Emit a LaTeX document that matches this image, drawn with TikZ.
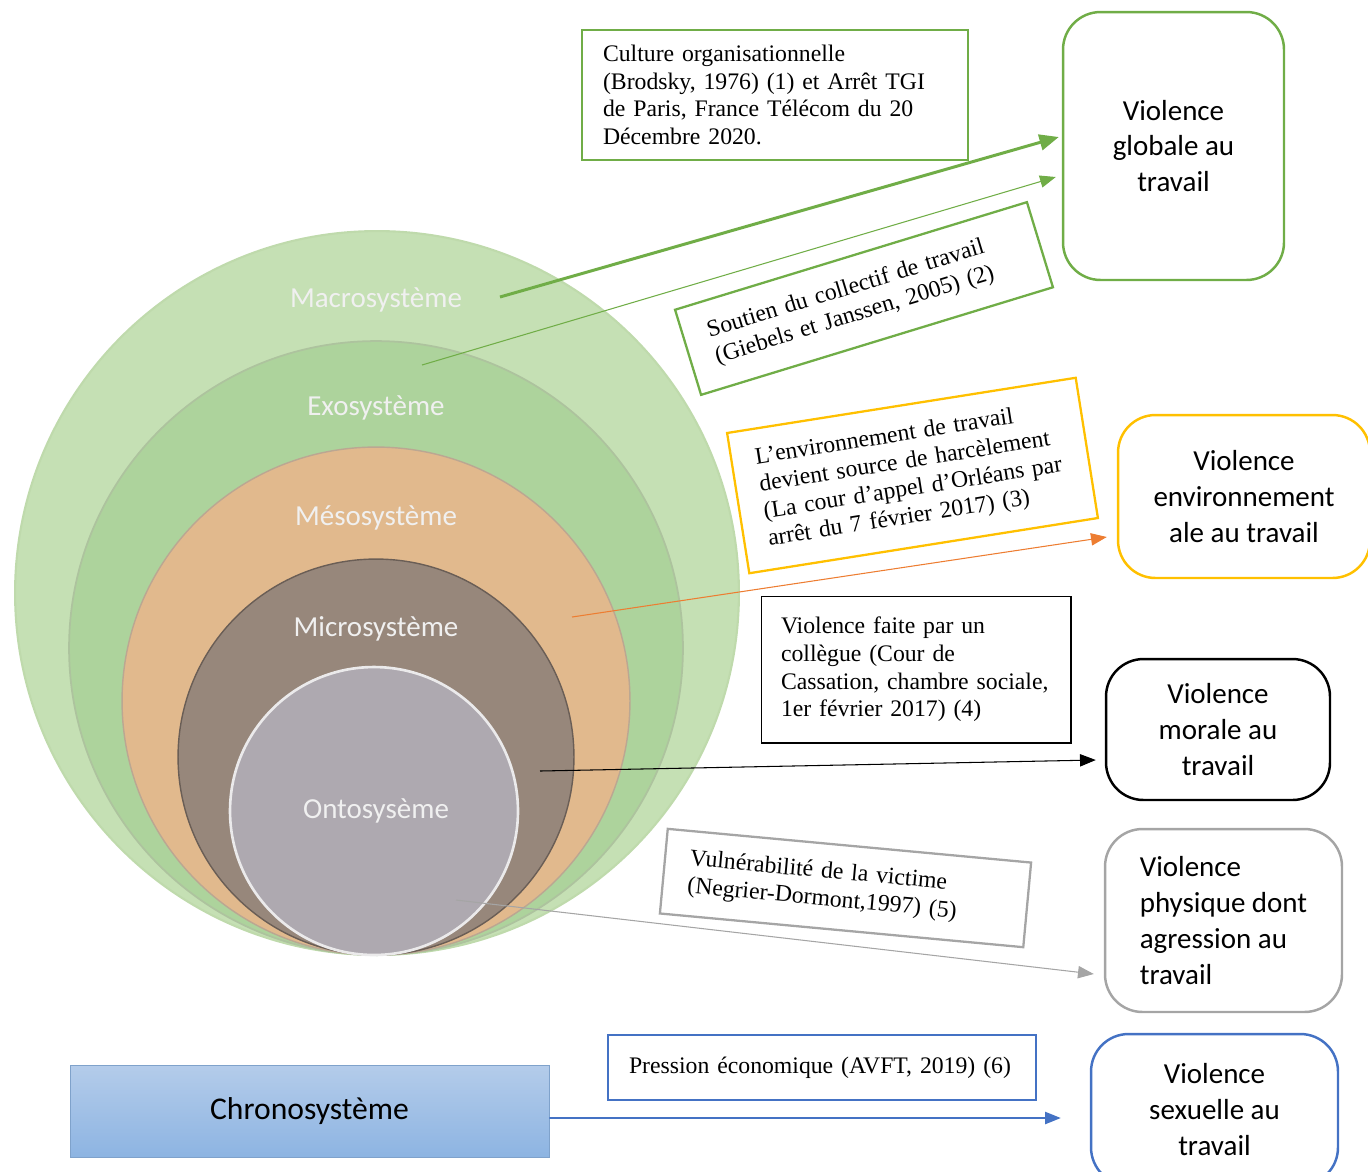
\documentclass[tikz,border=0pt]{standalone}
\usepackage{fontspec}
\setmainfont{Liberation Serif}
\newfontfamily\calib{Carlito}
\usetikzlibrary{arrows.meta}
\definecolor{leaf}{HTML}{70AD47}
\definecolor{gold}{HTML}{FFC000}
\definecolor{rust}{HTML}{ED7D31}
\definecolor{ash}{HTML}{A5A5A5}
\definecolor{sea}{HTML}{4472C4}
\definecolor{macro}{HTML}{C5E0B4}
\definecolor{exo}{HTML}{ADD39C}
\definecolor{meso}{HTML}{E1B98D}
\definecolor{micro}{HTML}{97877B}
\definecolor{onto}{HTML}{AEA9B0}
\definecolor{skytop}{HTML}{B4CCEA}
\definecolor{skybot}{HTML}{8DB4E2}

\tikzset{
  ring/.style={font=\calib\fontsize{16.5}{20}\selectfont, text=white!94!black},
  effect/.style={draw=#1, line width=1.4pt, rounded corners=0.75cm, align=center,
    font=\calib\fontsize{16.5}{20.4}\selectfont},
  source/.style={draw=#1, line width=1.3pt, align=left, font=\fontsize{13.5}{15.7}\selectfont},
  link/.style={draw=#1, line width=0.6pt, -{Triangle[length=9pt,width=7pt]}}
}

\begin{document}
\begin{tikzpicture}[x=0.02cm, y=-0.02cm]
    \useasboundingbox (0,0) rectangle (1368,1171);

    % Draw the nested systems
    \filldraw[fill=macro, draw=leaf!45, line width=1.2pt] (377,593) circle (7.24cm);
    \filldraw[fill=exo, draw=leaf!60!gray!60, line width=1pt] (376,648) circle (6.14cm);
    \filldraw[fill=meso, draw=meso!70!black!70, line width=0.8pt] (376,701) circle (5.08cm);
    \filldraw[fill=micro, draw=micro!70!black, line width=0.8pt] (376,757) circle (3.96cm);
    \filldraw[fill=onto, draw=white!75!onto, line width=1.5pt] (374,811) circle (2.88cm);

    \node[ring] (macroLbl) at (376,300) {Macrosystème};
    \node[ring] (exoLbl) at (376,408) {Exosystème};
    \node[ring] (mesoLbl) at (376,518) {Mésosystème};
    \node[ring] (microLbl) at (376,629) {Microsystème};
    \node[ring] (ontoLbl) at (376,811) {Ontosysème};

    \coordinate (macroPt) at (500,297);
    \coordinate (exoPt) at (422,365);
    \coordinate (mesoPt) at (572,617);
    \coordinate (microPt) at (540,771);
    \coordinate (ontoPt) at (456,900);

    % Kinds of violence
    \node[effect=leaf, minimum width=4.42cm, minimum height=5.36cm] (glob) at (1173.5,146) {Violence\\globale au\\travail};
    \node[effect=gold, minimum width=5.04cm, minimum height=3.26cm] (envi) at (1244,496.5) {Violence\\environnement\\ale au travail};
    \node[effect=black, minimum width=4.48cm, minimum height=2.82cm] (mor) at (1218,729.5) {Violence\\morale au\\travail};
    \node[effect=ash, minimum width=4.74cm, minimum height=3.66cm, align=left] (phys) at (1223.5,920.5) {Violence\\physique dont\\agression au\\travail};
    \node[effect=sea, minimum width=4.94cm, minimum height=3.02cm] (sex) at (1214.5,1109.5) {Violence\\sexuelle au\\travail};

    % Sources
    \node[source=leaf, minimum width=7.72cm, minimum height=2.6cm, text width=6.88cm] (cult) at (775,95) {Culture organisationnelle\\(Brodsky, 1976) (1) et Arrêt TGI\\de Paris, France Télécom du 20\\Décembre 2020.};
    \node[source=leaf, rotate=17, minimum width=7.36cm, minimum height=1.78cm, text width=6.36cm] (soutien) at (864,298.5) {Soutien du collectif de travail\\(Giebels et Janssen, 2005) (2)};
    \node[source=gold, rotate=9, minimum width=7.06cm, minimum height=2.84cm, text width=6.1cm] (lieu) at (912.5,475.5) {L’environnement de travail\\devient source de harcèlement\\(La cour d’appel d’Orléans par\\arrêt du 7 février 2017) (3)};
    \node[source=black, line width=0.6pt, minimum width=6.2cm, minimum height=2.94cm, text width=5.4cm] (collegue) at (916,669.5) {Violence faite par un\\collègue (Cour de\\Cassation, chambre sociale,\\1er février 2017) (4)};
    \node[source=ash, rotate=-5.3, minimum width=7.3cm, minimum height=1.7cm, text width=6.3cm] (vuln) at (845.5,888) {Vulnérabilité de la victime\\(Negrier-Dormont,1997) (5)};
    \node[source=sea, minimum width=8.56cm, minimum height=1.3cm, text width=7.72cm] (pression) at (822,1067.5) {Pression économique (AVFT, 2019) (6)};

    \node[draw=skybot!90!black, top color=skytop, bottom color=skybot, minimum width=9.58cm, minimum height=1.84cm,
      font=\calib\fontsize{18}{22}\selectfont] (chrono) at (309.5,1111) {Chronosystème};

    % Arrows
    \draw[link=leaf, line width=1.7pt, -{Triangle[length=11pt,width=9pt]}] (macroPt) -- ([xshift=-0.06cm,yshift=0.18cm]glob.west);
    \draw[link=leaf] (exoPt) -- ([xshift=-0.12cm,yshift=-0.62cm]glob.west);
    \draw[link=rust] (mesoPt) -- ([xshift=-0.2cm,yshift=-0.81cm]envi.west);
    \draw[link=black] (microPt) -- ([xshift=-0.18cm,yshift=-0.61cm]mor.west);
    \draw[link=ash] (ontoPt) -- ([xshift=-0.2cm,yshift=-1.07cm]phys.west);
    \draw[link=sea, line width=0.9pt] ([yshift=-0.14cm]chrono.east) -- ([xshift=-0.58cm,yshift=-0.17cm]sex.west);
\end{tikzpicture}
\end{document}
